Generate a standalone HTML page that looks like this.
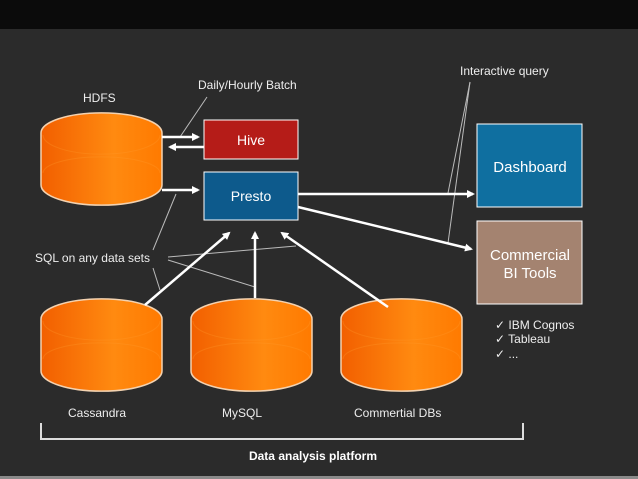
<!DOCTYPE html>
<html><head><meta charset="utf-8"><style>
body{margin:0;width:638px;height:479px;overflow:hidden;background:#2b2b2b;font-family:"Liberation Sans",sans-serif}
</style></head><body>
<svg width="638" height="479" viewBox="0 0 638 479" xmlns="http://www.w3.org/2000/svg" style="position:absolute;left:0;top:0">
<defs>
<linearGradient id="og" x1="0" y1="0" x2="1" y2="0">
<stop offset="0" stop-color="#f25f00"/><stop offset="0.6" stop-color="#ff8a10"/><stop offset="1" stop-color="#ff7a00"/>
</linearGradient>
<marker id="ah" markerWidth="8" markerHeight="8" refX="6" refY="4" orient="auto" markerUnits="userSpaceOnUse">
<path d="M0,0 L8,4 L0,8 Z" fill="#fff"/></marker>
<g id="cyl">
<path d="M0,20 A60,20 0 0 1 121,20 L121,72 A60,20 0 0 1 0,72 Z" fill="url(#og)" stroke="#f3d2b0" stroke-width="1.5"/>
<path d="M2,22 A58,19 0 0 0 119,22" fill="none" stroke="#ff9a30" stroke-width="1" opacity="0.3"/>
<path d="M2,60 A58,16 0 0 1 119,60" fill="none" stroke="#ff9a30" stroke-width="1" opacity="0.3"/>
</g>
</defs>
<rect x="0" y="0" width="638" height="29" fill="#0b0b0b"/>
<rect x="0" y="476" width="638" height="3" fill="#8a8a8a"/>
<use href="#cyl" x="41" y="113"/>
<use href="#cyl" x="41" y="299"/>
<use href="#cyl" x="191" y="299"/>
<use href="#cyl" x="341" y="299"/>
<g stroke="#bbb" stroke-width="1" fill="none">
<line x1="207" y1="97" x2="180" y2="137"/>
<line x1="176" y1="194" x2="153" y2="250"/>
<line x1="153" y1="268" x2="160" y2="290"/>
<line x1="168" y1="257" x2="296" y2="246"/>
<line x1="168" y1="260" x2="255" y2="287"/>
<line x1="470" y1="82" x2="448" y2="193"/>
<line x1="470" y1="82" x2="448" y2="243"/>
</g>
<g stroke="#fff" stroke-width="2.5" fill="none" marker-end="url(#ah)">
<line x1="162" y1="137" x2="198" y2="137"/>
<line x1="204" y1="147" x2="170" y2="147"/>
<line x1="162" y1="190" x2="198" y2="190"/>
<line x1="298" y1="194" x2="473" y2="194"/>
<line x1="298" y1="207" x2="471" y2="249"/>
<line x1="145" y1="305" x2="229" y2="233"/>
<line x1="255" y1="298" x2="255" y2="233"/>
<line x1="388" y1="307" x2="282" y2="233"/>
</g>
<rect x="204" y="120" width="94" height="39" fill="#b51c18" stroke="#fff" stroke-width="1"/>
<rect x="204" y="172" width="94" height="48" fill="#0d5a8c" stroke="#fff" stroke-width="1"/>
<rect x="477" y="124" width="105" height="83" fill="#0f6fa0" stroke="#fff" stroke-width="1"/>
<rect x="477" y="221" width="105" height="83" fill="#a48370" stroke="#fff" stroke-width="1"/>
<g fill="#fff" font-family="Liberation Sans, sans-serif" text-anchor="middle">
<text x="251" y="145" font-size="14">Hive</text>
<text x="251" y="201" font-size="14">Presto</text>
<text x="530" y="172" font-size="15">Dashboard</text>
<text x="530" y="260" font-size="15">Commercial</text>
<text x="530" y="278" font-size="15">BI Tools</text>
</g>
<g fill="#eee" font-family="Liberation Sans, sans-serif" font-size="12">
<text x="83" y="102">HDFS</text>
<text x="198" y="89">Daily/Hourly Batch</text>
<text x="460" y="75">Interactive query</text>
<text x="35" y="262">SQL on any data sets</text>
<text x="68" y="417">Cassandra</text>
<text x="222" y="417">MySQL</text>
<text x="354" y="417">Commertial DBs</text>
<text x="495" y="329">✓ IBM Cognos</text>
<text x="495" y="343">✓ Tableau</text>
<text x="495" y="358">✓ ...</text>
</g>
<path d="M41,423 L41,439 L523,439 L523,423" fill="none" stroke="#ddd" stroke-width="2"/>
<text x="313" y="460" fill="#fff" font-size="12" font-weight="bold" text-anchor="middle" font-family="Liberation Sans, sans-serif">Data analysis platform</text>
</svg>
</body></html>
